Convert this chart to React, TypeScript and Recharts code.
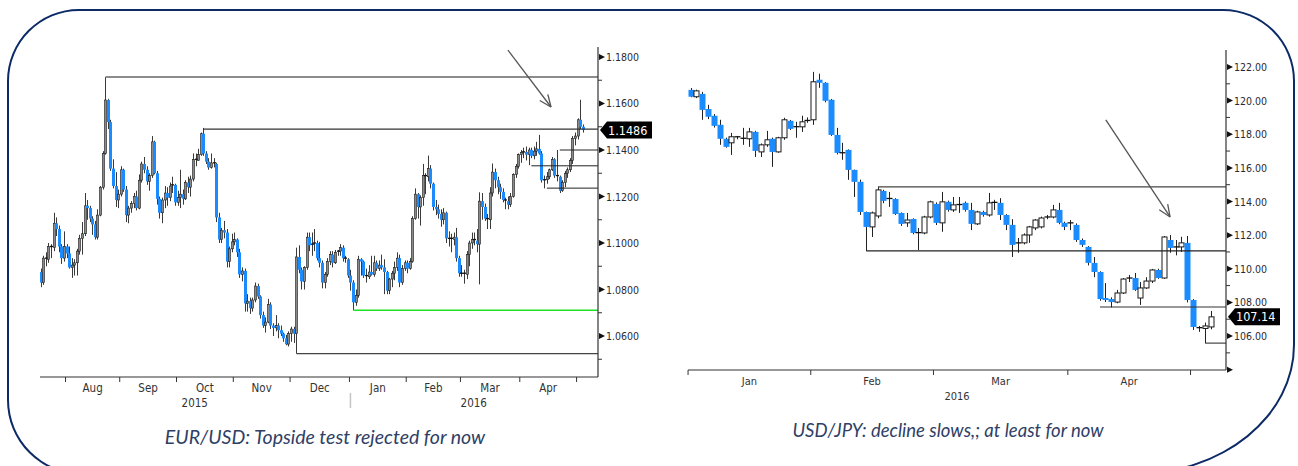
import React from "react";
import { ComposedChart, Bar, XAxis, YAxis, ReferenceLine } from "recharts";

type Ohlc = [number, number, number, number]; // open, high, low, close

// ---------- EUR/USD daily candles, Jul 2015 - May 2016 ----------
const EUR_JUL: Ohlc[] = [
  [1.0875, 1.089, 1.081, 1.083], [1.083, 1.0945, 1.082, 1.0935], [1.0935, 1.096, 1.09, 1.093],
  [1.093, 1.1, 1.0915, 1.0985], [1.0985, 1.0995, 1.0935, 1.098], [1.098, 1.113, 1.0965, 1.1085],
  [1.1085, 1.111, 1.103, 1.106], [1.106, 1.1075, 1.096, 1.0985], [1.0985, 1.0995, 1.091, 1.0935],
  [1.0935, 1.105, 1.092, 1.0985],
];
const EUR_AUG: Ohlc[] = [
  [1.0985, 1.0995, 1.0935, 1.0955], [1.0955, 1.0985, 1.089, 1.0895], [1.0895, 1.0935, 1.085, 1.0905],
  [1.0905, 1.093, 1.086, 1.0915], [1.0915, 1.0975, 1.086, 1.0965], [1.0965, 1.1035, 1.095, 1.102],
  [1.102, 1.109, 1.095, 1.104], [1.104, 1.1215, 1.103, 1.116], [1.116, 1.1185, 1.11, 1.115],
  [1.115, 1.116, 1.109, 1.1105], [1.1105, 1.1115, 1.1035, 1.108], [1.108, 1.1095, 1.1015, 1.1025],
  [1.1025, 1.1145, 1.1015, 1.112], [1.112, 1.1245, 1.1115, 1.124], [1.124, 1.1395, 1.123, 1.1385],
  [1.1385, 1.1714, 1.138, 1.1615], [1.1615, 1.162, 1.149, 1.152], [1.152, 1.153, 1.131, 1.132],
  [1.132, 1.136, 1.1235, 1.1245], [1.1245, 1.1305, 1.1155, 1.1185], [1.1185, 1.123, 1.115, 1.121],
];
const EUR_SEP: Ohlc[] = [
  [1.121, 1.133, 1.12, 1.1315], [1.1315, 1.132, 1.122, 1.123], [1.123, 1.1245, 1.109, 1.112],
  [1.112, 1.116, 1.1085, 1.115], [1.115, 1.118, 1.113, 1.117], [1.117, 1.1215, 1.115, 1.12],
  [1.12, 1.1225, 1.114, 1.115], [1.115, 1.1295, 1.1145, 1.127], [1.127, 1.135, 1.126, 1.134],
  [1.134, 1.137, 1.13, 1.1315], [1.1315, 1.133, 1.125, 1.1265], [1.1265, 1.13, 1.1225, 1.129],
  [1.129, 1.146, 1.128, 1.1435], [1.1435, 1.144, 1.1295, 1.13], [1.13, 1.131, 1.1165, 1.119],
  [1.119, 1.12, 1.1105, 1.113], [1.113, 1.1195, 1.1085, 1.1185], [1.1185, 1.1245, 1.115, 1.1215],
  [1.1215, 1.124, 1.116, 1.1195], [1.1195, 1.126, 1.118, 1.1245], [1.1245, 1.1285, 1.1215, 1.125],
  [1.125, 1.1255, 1.116, 1.1175],
];
const EUR_OCT: Ohlc[] = [
  [1.1175, 1.1225, 1.116, 1.1195], [1.1195, 1.1315, 1.115, 1.121], [1.121, 1.123, 1.1165, 1.119],
  [1.119, 1.127, 1.1185, 1.126], [1.126, 1.1285, 1.1215, 1.124], [1.124, 1.129, 1.12, 1.1275],
  [1.1275, 1.1385, 1.1265, 1.136], [1.136, 1.1385, 1.133, 1.1355], [1.1355, 1.1405, 1.1355, 1.138],
  [1.138, 1.1475, 1.1375, 1.147], [1.147, 1.1495, 1.1375, 1.1385], [1.1385, 1.1395, 1.134, 1.135],
  [1.135, 1.1365, 1.1315, 1.1325], [1.1325, 1.1385, 1.132, 1.1345], [1.1345, 1.1365, 1.1325, 1.134],
  [1.134, 1.1345, 1.109, 1.111], [1.111, 1.113, 1.1, 1.1015], [1.1015, 1.1065, 1.1, 1.1055],
  [1.1055, 1.1095, 1.102, 1.1045], [1.1045, 1.106, 1.0895, 1.092], [1.092, 1.0985, 1.0895, 1.0975],
  [1.0975, 1.104, 1.096, 1.1005],
];
const EUR_NOV: Ohlc[] = [
  [1.1005, 1.1045, 1.099, 1.1015], [1.1015, 1.102, 1.094, 1.096], [1.096, 1.0975, 1.085, 1.0865],
  [1.0865, 1.0895, 1.0835, 1.088], [1.088, 1.089, 1.0705, 1.074], [1.074, 1.078, 1.0705, 1.075],
  [1.075, 1.0765, 1.0695, 1.072], [1.072, 1.0765, 1.0705, 1.0755], [1.0755, 1.083, 1.0745, 1.0815],
  [1.0815, 1.0825, 1.076, 1.077], [1.077, 1.0775, 1.0675, 1.069], [1.069, 1.0705, 1.0635, 1.0645],
  [1.0645, 1.068, 1.0615, 1.066], [1.066, 1.076, 1.0655, 1.0735], [1.0735, 1.0745, 1.063, 1.0645],
  [1.0645, 1.0655, 1.06, 1.0635], [1.0635, 1.069, 1.062, 1.0645], [1.0645, 1.0655, 1.059, 1.0625],
  [1.0625, 1.0645, 1.06, 1.061], [1.061, 1.0615, 1.0575, 1.059], [1.059, 1.0605, 1.056, 1.0565],
  [1.0565, 1.062, 1.0555, 1.061],
];
const EUR_DEC: Ohlc[] = [
  [1.061, 1.064, 1.0575, 1.063], [1.063, 1.064, 1.057, 1.061], [1.061, 1.098, 1.0524, 1.094],
  [1.094, 1.099, 1.087, 1.0885], [1.0885, 1.0895, 1.08, 1.0835], [1.0835, 1.09, 1.08, 1.0895],
  [1.0895, 1.1045, 1.0885, 1.1025], [1.1025, 1.1045, 1.0965, 1.099], [1.099, 1.1045, 1.0945, 1.0995],
  [1.0995, 1.106, 1.0965, 1.1], [1.1, 1.101, 1.0925, 1.0935], [1.0935, 1.1005, 1.0895, 1.0915],
  [1.0915, 1.0925, 1.0805, 1.083], [1.083, 1.0875, 1.0805, 1.0865], [1.0865, 1.0935, 1.0855, 1.092],
  [1.092, 1.0965, 1.0905, 1.095], [1.095, 1.0965, 1.0895, 1.0915], [1.0915, 1.097, 1.091, 1.096],
  [1.096, 1.097, 1.0945, 1.0965], [1.0965, 1.0995, 1.0945, 1.098], [1.098, 1.099, 1.092, 1.0935],
  [1.0935, 1.0945, 1.0915, 1.093], [1.093, 1.0935, 1.085, 1.086],
];
const EUR_JAN: Ohlc[] = [
  [1.086, 1.0885, 1.0795, 1.083], [1.083, 1.084, 1.0711, 1.0745], [1.0745, 1.08, 1.073, 1.0775],
  [1.0775, 1.0945, 1.0765, 1.093], [1.093, 1.0935, 1.086, 1.092], [1.092, 1.0925, 1.085, 1.086],
  [1.086, 1.089, 1.083, 1.0855], [1.0855, 1.0905, 1.0845, 1.0875], [1.0875, 1.0945, 1.086, 1.0865],
  [1.0865, 1.0945, 1.0855, 1.0915], [1.0915, 1.0925, 1.088, 1.089], [1.089, 1.0925, 1.088, 1.0905],
  [1.0905, 1.095, 1.0885, 1.0895], [1.0895, 1.093, 1.078, 1.0875], [1.0875, 1.088, 1.078, 1.0795],
  [1.0795, 1.085, 1.078, 1.0845], [1.0845, 1.088, 1.081, 1.087], [1.087, 1.092, 1.084, 1.0895],
  [1.0895, 1.096, 1.088, 1.0935], [1.0935, 1.095, 1.081, 1.083], [1.083, 1.0905, 1.082, 1.089],
  [1.089, 1.0925, 1.088, 1.0915],
];
const EUR_FEB: Ohlc[] = [
  [1.0915, 1.0925, 1.087, 1.089], [1.089, 1.0935, 1.0885, 1.092], [1.092, 1.1115, 1.0915, 1.1105],
  [1.1105, 1.1235, 1.11, 1.121], [1.121, 1.1215, 1.1105, 1.1155], [1.1155, 1.1205, 1.1075, 1.1195],
  [1.1195, 1.134, 1.116, 1.129], [1.129, 1.13, 1.121, 1.1285], [1.1285, 1.1376, 1.1265, 1.132],
  [1.132, 1.1335, 1.1235, 1.1255], [1.1255, 1.126, 1.114, 1.1155], [1.1155, 1.1185, 1.112, 1.1145],
  [1.1145, 1.1165, 1.1105, 1.1125], [1.1125, 1.1145, 1.107, 1.11], [1.11, 1.115, 1.108, 1.113],
  [1.113, 1.1135, 1.1, 1.102], [1.102, 1.105, 1.0985, 1.102], [1.102, 1.104, 1.096, 1.1015],
  [1.1015, 1.1045, 1.099, 1.1025], [1.1025, 1.1065, 1.092, 1.0935], [1.0935, 1.0945, 1.0855, 1.087],
];
const EUR_MAR: Ohlc[] = [
  [1.087, 1.0905, 1.0855, 1.087], [1.087, 1.0885, 1.0825, 1.0865], [1.0865, 1.0965, 1.0845, 1.095],
  [1.095, 1.101, 1.09, 1.1], [1.1, 1.1045, 1.0975, 1.1015], [1.1015, 1.1045, 1.099, 1.101],
  [1.101, 1.106, 1.096, 1.0995], [1.0995, 1.1218, 1.0822, 1.118], [1.118, 1.1215, 1.11, 1.1155],
  [1.1155, 1.117, 1.1095, 1.1105], [1.1105, 1.1125, 1.106, 1.11], [1.11, 1.124, 1.106, 1.1215],
  [1.1215, 1.1342, 1.12, 1.1305], [1.1305, 1.132, 1.1235, 1.127], [1.127, 1.1285, 1.121, 1.124],
  [1.124, 1.1255, 1.119, 1.122], [1.122, 1.1235, 1.1175, 1.1185], [1.1185, 1.1195, 1.1145, 1.118],
  [1.118, 1.12, 1.1145, 1.1165], [1.1165, 1.1215, 1.1155, 1.12], [1.12, 1.13, 1.1195, 1.1295],
  [1.1295, 1.134, 1.128, 1.133], [1.133, 1.1385, 1.132, 1.138],
];
const EUR_APR: Ohlc[] = [
  [1.138, 1.14, 1.1345, 1.139], [1.139, 1.141, 1.1365, 1.1392], [1.1392, 1.1415, 1.1355, 1.138],
  [1.138, 1.141, 1.1335, 1.14], [1.14, 1.141, 1.1365, 1.1375], [1.1375, 1.1415, 1.136, 1.1395],
  [1.1395, 1.1435, 1.1375, 1.1405], [1.1405, 1.1465, 1.138, 1.1385], [1.1385, 1.1395, 1.126, 1.127],
  [1.127, 1.129, 1.1235, 1.1272], [1.1272, 1.1305, 1.1255, 1.1285], [1.1285, 1.132, 1.1275, 1.1315],
  [1.1315, 1.137, 1.131, 1.136], [1.136, 1.1365, 1.128, 1.129], [1.129, 1.14, 1.1265, 1.1285],
  [1.1285, 1.129, 1.1215, 1.1225], [1.1225, 1.127, 1.122, 1.126], [1.126, 1.131, 1.124, 1.13],
  [1.13, 1.1325, 1.128, 1.1315], [1.1315, 1.1365, 1.1305, 1.1355], [1.1355, 1.146, 1.134, 1.145],
  [1.145, 1.1475, 1.142, 1.146],
];
const EUR_MAY: Ohlc[] = [
  [1.146, 1.1536, 1.1445, 1.153], [1.153, 1.1616, 1.149, 1.15], [1.15, 1.151, 1.1475, 1.1486],
];

const EUR_MONTHS = [EUR_JUL, EUR_AUG, EUR_SEP, EUR_OCT, EUR_NOV, EUR_DEC, EUR_JAN, EUR_FEB, EUR_MAR, EUR_APR, EUR_MAY];
const EUR_MONTH_LABELS = ["", "Aug", "Sep", "Oct", "Nov", "Dec", "Jan", "Feb", "Mar", "Apr", ""];
const EUR_YEARS = [{ label: "2015", startMonth: 0 }, { label: "2016", startMonth: 6 }];
const EUR_LABEL_TICKS = [1.06, 1.08, 1.1, 1.12, 1.14, 1.16, 1.18];
const EUR_MINOR_TICKS = [1.05, 1.07, 1.09, 1.11, 1.13, 1.15, 1.17];
const EUR_LAST = 1.1486;
const EUR_LEVELS = [
  { from: 25, value: 1.1714, color: "#8c8c8c", width: 2 },
  { from: 63, value: 1.149, color: "#333", width: 1.4 },
  { from: 121, value: 1.0711, color: "#22e022", width: 1.6 },
  { from: 99, value: 1.0524, color: "#444", width: 1.3 },
  { from: 201, value: 1.14, color: "#222", width: 1 },
  { from: 190, value: 1.1332, color: "#222", width: 1 },
  { from: 196, value: 1.1236, color: "#222", width: 1 },
];
const EUR_ARROW = { from: [180.9, 1.183], to: [197.6, 1.1585] };

// ---------- USD/JPY daily candles, Jan - May 2016 ----------
const JPY_JAN: Ohlc[] = [
  [120.64, 120.75, 120.2, 120.23], [120.23, 120.65, 120.15, 120.58], [120.4, 120.52, 118.86, 119.45],
  [119.5, 119.75, 118.9, 119.04], [119.1, 119.2, 118.4, 118.5], [118.56, 118.86, 117.37, 117.73],
  [117.73, 117.8, 117.2, 117.25], [117.49, 118.08, 116.77, 117.85], [117.85, 117.9, 117.7, 117.79],
  [117.76, 118.38, 117.37, 117.73], [117.73, 118.38, 117.25, 118.14], [118.14, 118.2, 116.65, 117.01],
  [116.95, 117.45, 116.65, 117.37], [117.37, 118.2, 117.25, 117.67], [117.73, 117.8, 116.06, 116.95],
  [116.95, 117.85, 116.9, 117.79], [117.79, 118.98, 117.67, 118.86], [118.8, 118.85, 118.25, 118.32],
  [118.45, 118.74, 117.79, 118.44], [118.44, 119.1, 118.14, 118.74], [118.78, 119.0, 118.68, 118.82],
];
const JPY_FEB: Ohlc[] = [
  [118.86, 121.71, 118.56, 121.12], [121.24, 121.6, 120.76, 121.06], [121.06, 121.1, 119.9, 119.99],
  [120.05, 120.1, 117.9, 117.96], [117.96, 118.38, 116.8, 116.89], [116.9, 117.49, 116.48, 116.85],
  [117.07, 117.1, 115.29, 115.88], [115.88, 115.9, 114.27, 115.17], [115.17, 115.3, 113.2, 113.38],
  [113.38, 113.4, 111.06, 112.49], [112.49, 113.4, 111.89, 113.32], [113.14, 114.87, 113.0, 114.69],
  [114.63, 114.7, 113.9, 114.04], [114.18, 114.57, 113.68, 114.12], [114.15, 114.2, 113.2, 113.26],
  [113.32, 113.35, 112.55, 112.67], [112.73, 113.32, 112.49, 112.9], [112.96, 113.0, 112.05, 112.13],
  [112.15, 112.43, 111.12, 112.1], [112.13, 113.15, 112.05, 113.08], [113.08, 114.05, 113.0, 113.98],
];
const JPY_MAR: Ohlc[] = [
  [113.86, 113.95, 112.6, 112.73], [112.73, 114.57, 112.2, 113.98], [113.98, 114.05, 113.4, 113.5],
  [113.5, 114.27, 113.38, 113.8], [113.82, 114.27, 113.32, 113.78], [113.92, 114.0, 113.4, 113.5],
  [113.5, 113.92, 112.3, 112.67], [112.67, 113.45, 112.6, 113.38], [113.38, 113.45, 113.1, 113.2],
  [113.2, 114.51, 113.1, 113.92], [113.9, 114.1, 113.5, 113.95], [113.92, 114.2, 112.9, 113.2],
  [113.2, 113.25, 112.3, 112.61], [112.61, 112.95, 110.7, 111.42], [111.48, 111.83, 110.95, 111.54],
  [111.54, 112.1, 111.45, 112.01], [112.01, 112.55, 111.54, 112.49], [112.43, 112.95, 112.3, 112.9],
  [112.49, 113.1, 112.4, 113.02], [113.05, 113.2, 112.95, 113.08], [113.08, 113.8, 113.0, 113.5],
  [113.5, 113.92, 112.65, 112.73], [112.73, 112.8, 112.3, 112.49],
];
const JPY_APR: Ohlc[] = [
  [112.73, 112.9, 112.3, 112.7], [112.61, 112.7, 111.6, 111.71], [111.71, 111.8, 111.3, 111.42],
  [111.3, 111.35, 110.2, 110.35], [110.35, 110.7, 109.5, 109.81], [109.81, 109.85, 108.1, 108.2],
  [108.26, 109.15, 108.02, 108.14], [108.2, 108.3, 107.7, 108.02], [108.02, 108.74, 107.95, 108.56],
  [108.56, 109.45, 108.5, 109.39], [109.42, 109.63, 109.21, 109.45], [109.45, 109.75, 108.68, 108.74],
  [108.26, 109.21, 107.85, 108.86], [108.86, 109.5, 108.8, 109.27], [109.27, 109.99, 109.15, 109.93],
  [109.93, 110.0, 109.4, 109.45], [109.45, 111.95, 109.4, 111.89], [111.71, 112.01, 110.95, 111.24],
  [111.3, 111.71, 110.8, 111.27], [111.3, 111.9, 111.0, 111.54], [111.54, 111.95, 108.0, 108.14],
];
const JPY_MAY: Ohlc[] = [
  [108.14, 108.2, 106.36, 106.54], [106.5, 106.6, 106.25, 106.45], [106.45, 106.8, 105.58, 106.6],
  [106.54, 107.49, 106.4, 107.14],
];

const JPY_MONTHS = [JPY_JAN, JPY_FEB, JPY_MAR, JPY_APR, JPY_MAY];
const JPY_MONTH_LABELS = ["Jan", "Feb", "Mar", "Apr", ""];
const JPY_YEARS = [{ label: "2016", startMonth: 0 }];
const JPY_LABEL_TICKS = [106, 108, 110, 112, 114, 116, 118, 120, 122];
const JPY_MARKER_TICKS = [104];
const JPY_MINOR_TICKS = [105, 107, 109, 111, 113, 115, 117, 119, 121];
const JPY_LAST = 107.14;
const JPY_LEVELS = [
  { from: 32, value: 114.87, color: "#444", width: 1.2 },
  { from: 30, value: 111.06, color: "#222", width: 1.3 },
  { from: 70, value: 107.73, color: "#333", width: 1.1 },
  { from: 88, value: 105.58, color: "#333", width: 1.1 },
];
const JPY_ARROW = { from: [71.0, 118.86], to: [82.0, 113.08] };

const AXIS_FONT = "'DejaVu Sans Condensed', 'DejaVu Sans', sans-serif";

function CandlePanel(p: any) {
  const data: any[] = [];
  const starts: number[] = [];
  p.months.forEach((m: Ohlc[]) => {
    starts.push(data.length);
    m.forEach(([o, h, l, c]) => data.push({ i: data.length, o, h, l, c, range: [l, h] }));
  });
  const lo = -p.padLeft;
  const hi = data.length - 1 + p.padRight;
  const boundary = (m: number) => (m >= starts.length ? hi : starts[m] - 0.5);

  const xTicks: { v: number; kind: string; text?: string }[] = [];
  p.monthLabels.forEach((lab: string, m: number) => {
    if (m > 0 || lab) xTicks.push({ v: boundary(m), kind: "b", text: p.years.some((y: any) => y.startMonth === m && m > 0) ? "sep" : "" });
    if (lab) xTicks.push({ v: (boundary(m) + boundary(m + 1)) / 2, kind: "m", text: lab });
  });
  p.years.forEach((y: any, k: number) => {
    const a = y.startMonth === 0 ? lo : boundary(y.startMonth);
    const b = k + 1 < p.years.length ? boundary(p.years[k + 1].startMonth) : hi;
    xTicks.push({ v: (a + b) / 2, kind: "y", text: y.label });
  });

  const renderXTick = (t: any) => {
    const d = xTicks.find((q) => Math.abs(q.v - t.payload.value) < 1e-6);
    if (!d) return <g />;
    if (d.kind === "b")
      return (
        <g>
          <line x1={t.x} x2={t.x} y1={t.y} y2={t.y + 5} stroke="#333" />
          {d.text === "sep" && <line x1={t.x + 1} x2={t.x + 1} y1={t.y + 16} y2={t.y + 31} stroke="#c4c4c4" strokeWidth={1.5} />}
        </g>
      );
    return (
      <text x={t.x} y={t.y + (d.kind === "m" ? 15 : 30)} textAnchor="middle" fontSize={p.xFont} fontFamily={AXIS_FONT} fill="#333">
        {d.text}
      </text>
    );
  };

  const renderYTick = (t: any) => {
    const v = t.payload.value;
    const x = t.x;
    const y = t.y;
    if (Math.abs(v - p.last) < 1e-9)
      return (
        <g>
          <path d={`M${x + 2},${y} L${x + 9},${y - 8.5} L${x + 54},${y - 8.5} L${x + 54},${y + 8.5} L${x + 9},${y + 8.5} Z`} fill="#000" />
          <text x={x + 10} y={y + 4.5} fontSize={12.5} fontFamily={AXIS_FONT} fill="#fff">
            {v.toFixed(p.decimals)}
          </text>
        </g>
      );
    if (p.minorTicks.some((m: number) => Math.abs(m - v) < 1e-9))
      return <line x1={x} x2={x + 4} y1={y} y2={y} stroke="#333" />;
    const labelled = p.labelTicks.some((m: number) => Math.abs(m - v) < 1e-9);
    return (
      <g>
        <path d={`M${x + 1},${y - 3} L${x + 7},${y} L${x + 1},${y + 3} Z`} fill="#111" />
        {labelled && (
          <text x={x + 8} y={y + 4} fontSize={10.5} fontFamily={AXIS_FONT} fill="#2a2a35">
            {v.toFixed(p.decimals)}
          </text>
        )}
      </g>
    );
  };

  const renderCandle = (b: any) => {
    const d = b.payload;
    if (!d) return <g />;
    const top = Math.min(b.y, b.y + b.height);
    const span = Math.abs(b.height);
    const ppu = d.h > d.l ? span / (d.h - d.l) : 0;
    const cx = Math.round(b.x + b.width / 2) + 0.5;
    const yO = top + (d.h - d.o) * ppu;
    const yC = top + (d.h - d.c) * ppu;
    const bt = Math.min(yO, yC);
    const bh = Math.abs(yC - yO);
    const w = p.bodyW;
    const up = d.c >= d.o;
    let body;
    if (bh < 1.5) body = <line x1={cx - w / 2 - 0.5} x2={cx + w / 2 + 0.5} y1={bt} y2={bt} stroke="#111" strokeWidth={1.3} />;
    else if (up) body = <rect x={cx - w / 2} y={bt} width={w} height={bh} fill={p.upFill} stroke="#1a1a1a" strokeWidth={p.upStrokeW} />;
    else body = <rect x={cx - w / 2 - 0.5} y={bt} width={w + 1} height={bh} fill="#1a8cff" />;
    return (
      <g>
        <line x1={cx} x2={cx} y1={top} y2={top + span} stroke={p.wick} strokeWidth={1} />
        {body}
      </g>
    );
  };

  const arrowShape = (s: any) => {
    const { x1, y1, x2, y2 } = s;
    const ang = Math.atan2(y2 - y1, x2 - x1);
    const L = 13;
    const a1 = ang + Math.PI - 0.4;
    const a2 = ang + Math.PI + 0.4;
    return (
      <g stroke="#555" strokeWidth={1.3} fill="none">
        <line x1={x1} y1={y1} x2={x2} y2={y2} />
        <line x1={x2} y1={y2} x2={x2 + L * Math.cos(a1)} y2={y2 + L * Math.sin(a1)} />
        <line x1={x2} y1={y2} x2={x2 + L * Math.cos(a2)} y2={y2 + L * Math.sin(a2)} />
      </g>
    );
  };

  const yTicks = [...p.minorTicks, ...p.markerTicks, ...p.labelTicks, p.last];

  return (
    <div style={{ position: "absolute", left: p.left, top: 0 }}>
      <ComposedChart width={p.width} height={p.height} data={data} margin={p.margin}>
        <XAxis
          dataKey="i"
          type="number"
          domain={[lo, hi]}
          allowDataOverflow
          ticks={xTicks.map((t) => t.v)}
          interval={0}
          tickSize={0}
          tickMargin={0}
          tick={renderXTick}
          axisLine={{ stroke: "#333", strokeWidth: 1.2 }}
          height={40}
        />
        <YAxis
          yAxisId="p"
          orientation="right"
          type="number"
          domain={p.yDomain}
          allowDataOverflow
          ticks={yTicks}
          interval={0}
          tickSize={0}
          tickMargin={0}
          tick={renderYTick}
          axisLine={{ stroke: "#333", strokeWidth: 1.2 }}
          width={p.yAxisWidth}
        />
        <Bar yAxisId="p" dataKey="range" barSize={p.bodyW} shape={renderCandle} isAnimationActive={false} />
        {p.levels.map((lv: any, k: number) => (
          <ReferenceLine
            key={k}
            yAxisId="p"
            segment={[{ x: lv.from, y: lv.value }, { x: hi, y: lv.value }]}
            stroke={lv.color}
            strokeWidth={lv.width}
            ifOverflow="visible"
          />
        ))}
        <ReferenceLine
          yAxisId="p"
          segment={[{ x: p.arrow.from[0], y: p.arrow.from[1] }, { x: p.arrow.to[0], y: p.arrow.to[1] }]}
          shape={arrowShape}
          ifOverflow="visible"
        />
      </ComposedChart>
    </div>
  );
}

const captionStyle: React.CSSProperties = {
  position: "absolute",
  fontFamily: "Lato, 'Liberation Sans', sans-serif",
  fontStyle: "italic",
  color: "#2f3f66",
  textAlign: "center",
  whiteSpace: "nowrap",
};

export default function App() {
  return (
    <div style={{ position: "absolute", left: 0, top: 0, width: 1298, height: 466, overflow: "hidden", background: "#fff" }}>
      <div
        style={{
          position: "absolute",
          left: 7,
          top: 9,
          width: 1284,
          height: 462,
          border: "2.5px solid #0b2a66",
          borderRadius: "72px 72px 160px 75px / 72px 72px 130px 75px",
        }}
      />
      <CandlePanel
        left={0}
        width={680}
        height={420}
        margin={{ top: 47, right: 12, left: 40, bottom: 3 }}
        yAxisWidth={70}
        months={EUR_MONTHS}
        monthLabels={EUR_MONTH_LABELS}
        years={EUR_YEARS}
        padLeft={0.39}
        padRight={5.8}
        yDomain={[1.04237, 1.1843]}
        labelTicks={EUR_LABEL_TICKS}
        markerTicks={[]}
        minorTicks={EUR_MINOR_TICKS}
        last={EUR_LAST}
        decimals={4}
        levels={EUR_LEVELS}
        arrow={EUR_ARROW}
        bodyW={2}
        upFill="#8a8a8a"
        upStrokeW={0.6}
        wick="#3a3a3a"
        xFont={11.5}
      />
      <CandlePanel
        left={650}
        width={648}
        height={420}
        margin={{ top: 50, right: 12, left: 38, bottom: 10 }}
        yAxisWidth={60}
        months={JPY_MONTHS}
        monthLabels={JPY_MONTH_LABELS}
        years={JPY_YEARS}
        padLeft={0.51}
        padRight={2.57}
        yDomain={[103.98, 123.01]}
        labelTicks={JPY_LABEL_TICKS}
        markerTicks={JPY_MARKER_TICKS}
        minorTicks={JPY_MINOR_TICKS}
        last={JPY_LAST}
        decimals={2}
        levels={JPY_LEVELS}
        arrow={JPY_ARROW}
        bodyW={5}
        upFill="#ffffff"
        upStrokeW={1}
        wick="#222"
        xFont={11}
      />
      <div style={{ ...captionStyle, fontSize: 19.5, left: 125, width: 400, top: 425 }}>EUR/USD: Topside test rejected for now</div>
      <div style={{ ...captionStyle, fontSize: 18.5, left: 748, width: 400, top: 419 }}>USD/JPY: decline slows,; at least for now</div>
    </div>
  );
}
